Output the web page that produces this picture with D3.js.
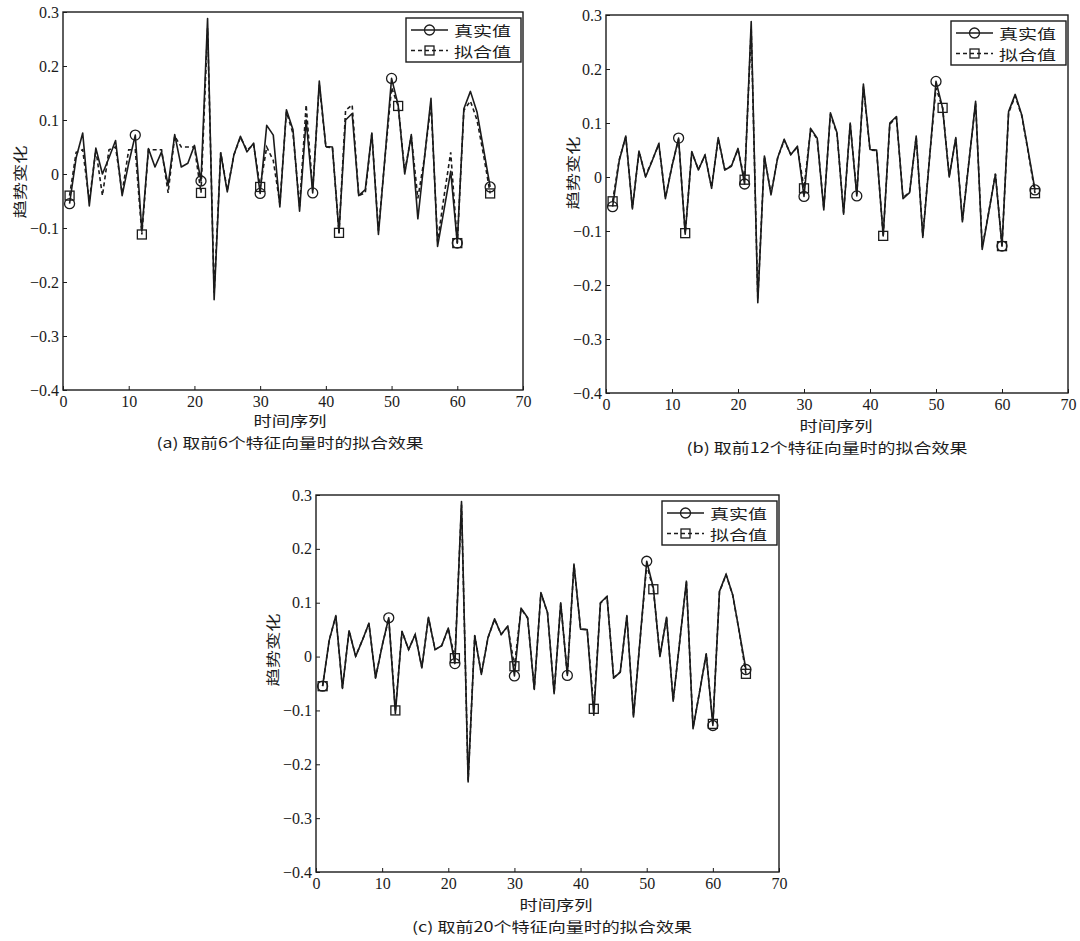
<!DOCTYPE html>
<html>
<head>
<meta charset="utf-8">
<script src="https://cdn.jsdelivr.net/npm/d3@7"></script>
<style>
  body { margin: 0; background: #fff; }
  svg { display: block; }
</style>
</head>
<body>
<svg id="fig" width="1080" height="941"></svg>
<script>
// ---- data ----
const timeSteps = [1,2,3,4,5,6,7,8,9,10,11,12,13,14,15,16,17,18,19,20,21,22,23,24,25,26,27,28,29,30,
  31,32,33,34,35,36,37,38,39,40,41,42,43,44,45,46,47,48,49,50,51,52,53,54,55,56,57,58,59,60,61,62,63,64,65];

// measured trend change
const trueValues = [-0.055,0.03,0.076,-0.059,0.048,0.0,0.03,0.062,-0.04,0.02,
  0.072,-0.106,0.047,0.013,0.041,-0.021,0.073,0.013,0.02,0.053,
  -0.013,0.288,-0.233,0.039,-0.033,0.035,0.07,0.041,0.057,-0.036,
  0.09,0.072,-0.061,0.119,0.082,-0.069,0.1,-0.035,0.172,0.051,
  0.05,-0.109,0.1,0.112,-0.04,-0.029,0.076,-0.112,0.032,0.177,
  0.128,0.0,0.073,-0.083,0.029,0.14,-0.134,-0.065,0.005,-0.128,
  0.121,0.153,0.115,0.046,-0.024];

// fitted values using the first 6 eigenvectors
const fitted6 = [-0.04,0.04,0.045,-0.05,0.045,-0.04,0.045,0.05,-0.035,0.045,
  0.045,-0.112,0.045,0.045,0.045,-0.035,0.07,0.05,0.05,0.05,
  -0.035,0.27,-0.22,0.04,-0.03,0.035,0.068,0.044,0.055,-0.024,
  0.05,0.025,-0.055,0.115,0.075,-0.06,0.128,-0.03,0.165,0.05,
  0.049,-0.109,0.118,0.128,-0.04,-0.035,0.075,-0.105,0.03,0.16,
  0.126,0.005,0.07,-0.045,0.03,0.13,-0.125,-0.04,0.04,-0.128,
  0.118,0.135,0.1,0.035,-0.036];

// fitted values using the first 12 eigenvectors
const fitted12 = [-0.045,0.032,0.074,-0.057,0.047,0.002,0.031,0.06,-0.038,0.021,
  0.07,-0.104,0.046,0.014,0.04,-0.019,0.071,0.014,0.021,0.051,
  -0.005,0.275,-0.225,0.038,-0.031,0.035,0.068,0.042,0.055,-0.021,
  0.088,0.07,-0.058,0.116,0.08,-0.066,0.098,-0.032,0.168,0.05,
  0.049,-0.109,0.098,0.11,-0.038,-0.028,0.074,-0.109,0.033,0.165,
  0.128,0.002,0.071,-0.08,0.03,0.137,-0.13,-0.064,0.006,-0.128,
  0.119,0.15,0.113,0.044,-0.03];

// fitted values using the first 20 eigenvectors
const fitted20 = [-0.055,0.031,0.075,-0.058,0.048,0.001,0.03,0.061,-0.039,0.02,
  0.071,-0.1,0.047,0.013,0.041,-0.02,0.072,0.013,0.02,0.052,
  -0.003,0.282,-0.23,0.039,-0.032,0.035,0.069,0.041,0.056,-0.018,
  0.089,0.071,-0.06,0.118,0.081,-0.068,0.099,-0.034,0.17,0.051,
  0.05,-0.097,0.099,0.111,-0.039,-0.029,0.075,-0.11,0.032,0.17,
  0.125,0.001,0.072,-0.082,0.029,0.139,-0.132,-0.065,0.005,-0.125,
  0.12,0.152,0.114,0.045,-0.032];

const trueMarkSteps = [1, 11, 21, 30, 38, 50, 60, 65];
const fitMarkSteps  = [1, 12, 21, 30, 42, 51, 60, 65];

const xTicks = [0, 10, 20, 30, 40, 50, 60, 70];
const yTicks = [0.3, 0.2, 0.1, 0, -0.1, -0.2, -0.3, -0.4];
const seriesNames = ["真实值", "拟合值"];
const xTitle = "时间序列";
const yTitle = "趋势变化";
const captions = [
  "(a) 取前6个特征向量时的拟合效果",
  "(b) 取前12个特征向量时的拟合效果",
  "(c) 取前20个特征向量时的拟合效果"
];
const fittedSets = [fitted6, fitted12, fitted20];

// ---- layout of the three sub-figures ----
const layouts = [
  { left: 63,  right: 523,  top: 12,  bottom: 390, yT: [19, 182],  xT: [290, 420], cap: [290, 442], capW: 267 },
  { left: 606, right: 1068, top: 15,  bottom: 393, yT: [572, 173], xT: [836, 425], cap: [827, 447], capW: 281 },
  { left: 316, right: 779,  top: 495, bottom: 872, yT: [272, 650], xT: [556, 904], cap: [552, 926], capW: 280 }
];

const SERIF = "'Liberation Serif','DejaVu Serif',serif";
const CJK = "'Noto Sans CJK SC','Noto Sans CJK JP',sans-serif";
const INK = "#1b1b1b";

const svg = d3.select("#fig");
svg.append("rect").attr("width", 1080).attr("height", 941).attr("fill", "#fff");

layouts.forEach((L, k) => {
  const g = svg.append("g");
  const x = d3.scaleLinear().domain([0, 70]).range([L.left, L.right]);
  const y = d3.scaleLinear().domain([-0.4, 0.3]).range([L.bottom, L.top]);

  // frame
  g.append("rect")
    .attr("x", L.left).attr("y", L.top)
    .attr("width", L.right - L.left).attr("height", L.bottom - L.top)
    .attr("fill", "#fff").attr("stroke", INK).attr("stroke-width", 1.4);

  // axes with inward ticks
  const fmtY = d => d === 0 ? "0" : d3.format(".1f")(d);
  const ax = g.append("g").attr("transform", `translate(0,${L.bottom})`)
    .call(d3.axisBottom(x).tickValues(xTicks).tickSizeInner(-4).tickSizeOuter(0).tickPadding(6));
  const ay = g.append("g").attr("transform", `translate(${L.left},0)`)
    .call(d3.axisLeft(y).tickValues(yTicks).tickFormat(fmtY).tickSizeInner(-4).tickSizeOuter(0).tickPadding(4));
  [ax, ay].forEach(a => {
    a.attr("font-family", SERIF).attr("font-size", 16);
    a.select(".domain").remove();
    a.selectAll("line").attr("stroke", INK).attr("stroke-width", 1);
    a.selectAll("text").style("font-family", SERIF).attr("font-size", 16).attr("fill", INK);
  });

  // series
  const pts = (vals) => timeSteps.map((t, i) => [t, vals[i]]);
  const line = d3.line().x(d => x(d[0])).y(d => y(d[1]));
  const fit = fittedSets[k];

  g.append("path").attr("d", line(pts(trueValues)))
    .attr("fill", "none").attr("stroke", INK).attr("stroke-width", 1.6)
    .attr("stroke-linejoin", "round");
  g.append("path").attr("d", line(pts(fit)))
    .attr("fill", "none").attr("stroke", INK).attr("stroke-width", 1.6)
    .attr("stroke-dasharray", "4,3");

  // markers
  g.selectAll("circle.tm").data(trueMarkSteps).join("circle")
    .attr("class", "tm")
    .attr("cx", t => x(t)).attr("cy", t => y(trueValues[timeSteps.indexOf(t)]))
    .attr("r", 5).attr("fill", "none").attr("stroke", INK).attr("stroke-width", 1.3);
  g.selectAll("rect.fm").data(fitMarkSteps).join("rect")
    .attr("class", "fm")
    .attr("x", t => x(t) - 4.5).attr("y", t => y(fit[timeSteps.indexOf(t)]) - 4.5)
    .attr("width", 9).attr("height", 9)
    .attr("fill", "none").attr("stroke", INK).attr("stroke-width", 1.3);

  // legend
  const bx = L.right - 117, by = L.top + 6;
  const lg = g.append("g");
  lg.append("rect").attr("x", bx).attr("y", by).attr("width", 115).attr("height", 44)
    .attr("fill", "#fff").attr("stroke", INK).attr("stroke-width", 1.4);
  seriesNames.forEach((name, j) => {
    const ry = by + 12 + j * 20.5;
    lg.append("line").attr("x1", bx + 5).attr("x2", bx + 42).attr("y1", ry).attr("y2", ry)
      .attr("stroke", INK).attr("stroke-width", 1.6)
      .attr("stroke-dasharray", j === 0 ? null : "4,3");
    if (j === 0) {
      lg.append("circle").attr("cx", bx + 23.5).attr("cy", ry).attr("r", 5)
        .attr("fill", "none").attr("stroke", INK).attr("stroke-width", 1.3);
    } else {
      lg.append("rect").attr("x", bx + 19).attr("y", ry - 4.5).attr("width", 9).attr("height", 9)
        .attr("fill", "none").attr("stroke", INK).attr("stroke-width", 1.3);
    }
    lg.append("text").attr("x", bx + 48).attr("y", ry)
      .attr("dominant-baseline", "central")
      .attr("font-family", CJK).attr("font-size", 14).attr("fill", INK)
      .attr("textLength", 57).attr("lengthAdjust", "spacingAndGlyphs")
      .text(name);
  });

  // titles
  g.append("text").attr("x", L.xT[0]).attr("y", L.xT[1])
    .attr("text-anchor", "middle").attr("dominant-baseline", "central")
    .attr("font-family", CJK).attr("font-size", 14).attr("fill", INK)
    .attr("textLength", 73).attr("lengthAdjust", "spacingAndGlyphs")
    .text(xTitle);
  g.append("text")
    .attr("transform", `translate(${L.yT[0]},${L.yT[1]}) rotate(-90)`)
    .attr("text-anchor", "middle").attr("dominant-baseline", "central")
    .attr("font-family", CJK).attr("font-size", 14).attr("fill", INK)
    .attr("textLength", 73).attr("lengthAdjust", "spacingAndGlyphs")
    .text(yTitle);
  g.append("text").attr("x", L.cap[0]).attr("y", L.cap[1])
    .attr("text-anchor", "middle").attr("dominant-baseline", "central")
    .attr("font-family", CJK).attr("font-size", 14).attr("fill", INK)
    .attr("textLength", L.capW).attr("lengthAdjust", "spacingAndGlyphs")
    .text(captions[k]);
});
</script>
</body>
</html>
